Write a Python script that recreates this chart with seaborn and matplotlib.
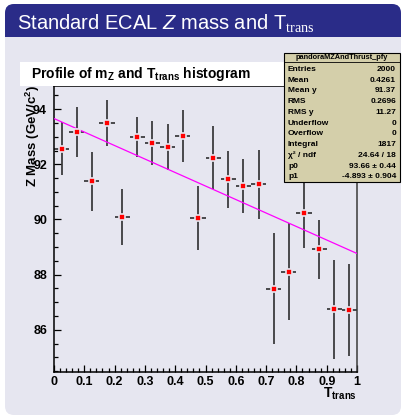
import numpy as np
import matplotlib
matplotlib.use("Agg")
import matplotlib.pyplot as plt
from matplotlib.patches import FancyBboxPatch, Rectangle
from matplotlib.ticker import MultipleLocator
import seaborn as sns

# Profile of Z mass versus transverse thrust (20 bins of width 0.05)
bin_centers = [0.025, 0.075, 0.125, 0.175, 0.225, 0.275, 0.325, 0.375, 0.425, 0.475,
               0.525, 0.575, 0.625, 0.675, 0.725, 0.775, 0.825, 0.875, 0.925, 0.975]
mean_mass = [92.57, 93.17, 91.38, 93.50, 90.10, 93.00, 92.78, 92.63, 93.02, 90.05,
             92.24, 91.45, 91.21, 91.27, 87.49, 88.11, 90.22, 88.92, 86.74, 86.72]
mass_err = [0.97, 0.90, 1.08, 0.84, 1.02, 0.72, 0.80, 0.85, 0.95, 1.16,
            1.15, 1.03, 0.98, 1.25, 2.01, 1.75, 1.25, 1.07, 1.80, 1.68]
bin_half_width = 0.025

# straight-line fit parameters
fit_p0 = 93.66
fit_p1 = -4.893

x_ticks = [0, 0.1, 0.2, 0.3, 0.4, 0.5, 0.6, 0.7, 0.8, 0.9, 1.0]
x_tick_labels = ["0", "0.1", "0.2", "0.3", "0.4", "0.5", "0.6", "0.7", "0.8", "0.9", "1"]
y_ticks = [86, 88, 90, 92, 94]
y_tick_labels = ["86", "88", "90", "92", "94"]

stats_name = "pandoraMZAndThrust_pfy"
stats_labels = ["Entries", "Mean", "Mean y", "RMS", "RMS y", "Underflow", "Overflow",
                "Integral", "\u03c7\u00b2 / ndf", "p0", "p1"]
stats_values = ["2000", "0.4261", "91.37", "0.2696", "11.27", "0", "0",
                "1817", "24.64 / 18", "93.66 \u00b1 0.44", "-4.893 \u00b1 0.904"]

plt.rcParams.update({
    "font.family": "Liberation Sans",
    "mathtext.fontset": "custom",
    "mathtext.rm": "Liberation Serif",
    "mathtext.it": "Liberation Sans:italic",
    "mathtext.bf": "Liberation Sans:bold",
})

W, H = 403, 416
BODY = "#e6e6f0"
HEAD = "#2a2c88"
fig = plt.figure(figsize=(W / 100, H / 100), dpi=100, facecolor="white")

# slide block: rounded body, dark header, soft shadow under header
bg = fig.add_axes([0, 0, 1, 1], zorder=0)
bg.axis("off")
r = 9
bg.add_patch(FancyBboxPatch((5 + r, 4 + r), 396 - 2 * r, 411 - 2 * r,
                            boxstyle=f"round,pad={r}", fc=BODY, ec="none"))
bg.add_patch(FancyBboxPatch((5 + r, 4 + r), 396 - 2 * r, 50 - 2 * r,
                            boxstyle=f"round,pad={r}", fc=HEAD, ec="none"))
bg.add_patch(Rectangle((5, 37), 396, 30, fc=BODY, ec="none"))
c0 = np.array(matplotlib.colors.to_rgb("#8a8ab6"))
c1 = np.array(matplotlib.colors.to_rgb(BODY))
t = np.linspace(0, 1, 32)[:, None, None]
grad = c0 * (1 - t) + c1 * t
grad = np.repeat(grad, 2, axis=1)
bg.imshow(grad, extent=(5, 401, 46, 37), aspect="auto", interpolation="bilinear")
bg.set_xlim(0, W)
bg.set_ylim(H, 0)

# main plot
ax = fig.add_axes([54 / W, 1 - 372 / H, 303 / W, 286 / H], zorder=1)
ax.set_facecolor("none")
ax.errorbar(bin_centers, mean_mass, xerr=bin_half_width, yerr=mass_err, fmt="none",
            ecolor="#1e1e1e", elinewidth=1.1, capsize=0, zorder=2)
fit_x = np.array([0.0, 1.0])
sns.lineplot(x=fit_x, y=fit_p0 + fit_p1 * fit_x, ax=ax, color="#ff00ff", linewidth=0.9,
             zorder=3)
sns.scatterplot(x=bin_centers, y=mean_mass, ax=ax, marker="s", s=21, color="#ff0000",
                edgecolor=BODY, linewidth=1.2, zorder=4)

ax.set_xlim(0, 1)
ax.set_ylim(84.47, 94.84)
ax.set_xticks(x_ticks, x_tick_labels, fontweight="bold", fontsize=9)
ax.set_yticks(y_ticks, y_tick_labels, fontweight="bold", fontsize=9)
ax.xaxis.set_minor_locator(MultipleLocator(0.02))
ax.yaxis.set_minor_locator(MultipleLocator(0.5))
ax.tick_params(which="major", direction="in", length=5, width=0.9, color="black")
ax.tick_params(which="minor", direction="in", length=2.6, width=0.9, color="black")
ax.tick_params(axis="x", which="major", pad=3)
ax.tick_params(axis="y", which="major", pad=5)
ax.set_xlabel("")
ax.set_ylabel("")
for side in ["left", "bottom", "right", "top"]:
    ax.spines[side].set_linewidth(1.1)
    ax.spines[side].set_color("black")
ax.spines["right"].set_color("#3a3a3a")

# overlay: titles, axis titles, stats box
ov = fig.add_axes([0, 0, 1, 1], zorder=5)
ov.set_facecolor("none")
ov.axis("off")
ov.set_xlim(0, W)
ov.set_ylim(H, 0)

ov.text(17, 29.5, "Standard ECAL $Z$ mass and T$_{\\mathrm{trans}}$", color="white",
        fontsize=14.5, va="baseline", ha="left")

ov.add_patch(Rectangle((20, 62), 264, 24, fc="white", ec="none"))
ov.text(31, 78, "Profile of m$_{\\mathbf{Z}}$ and T$_{\\mathbf{trans}}$ histogram",
        fontsize=10, fontweight="bold", va="baseline", ha="left")

ov.text(33, 85, "Z Mass (GeV/c$^{\\mathbf{2}}$)", rotation=90, fontsize=9.5,
        fontweight="bold", ha="center", va="top")
ov.text(357, 398, "T$_{\\mathbf{trans}}$", fontsize=10, fontweight="bold",
        ha="right", va="baseline")

ov.add_patch(Rectangle((284, 53), 116, 129, fc="#d4cfaa", ec="black", lw=0.8))
ov.plot([284, 400], [62, 62], color="black", lw=0.6)
ov.text(342, 57.8, stats_name, fontsize=5.3, fontweight="bold", ha="center", va="center")
for i, (lab, val) in enumerate(zip(stats_labels, stats_values)):
    yy = 69.3 + 10.75 * i
    ov.text(288, yy, lab, fontsize=6, fontweight="bold", ha="left", va="center")
    ov.text(396, yy, val, fontsize=6, fontweight="bold", ha="right", va="center")

fig.savefig("out.png", dpi=100, facecolor="white")
